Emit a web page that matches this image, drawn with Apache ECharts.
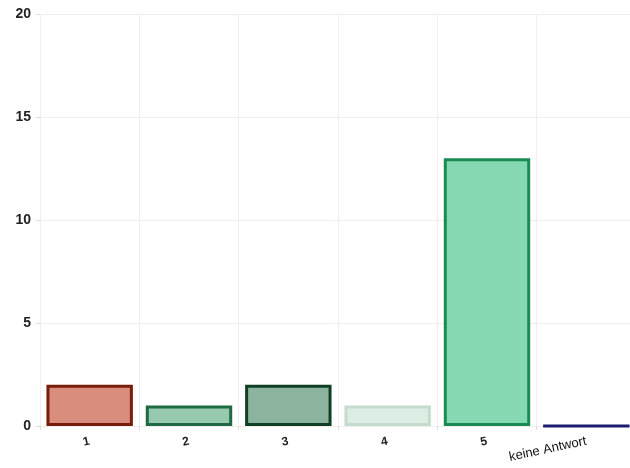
<!DOCTYPE html>
<html>
<head>
<meta charset="utf-8">
<script src="https://cdn.jsdelivr.net/npm/echarts@6/dist/echarts.min.js"></script>
<style>
  html, body { margin: 0; padding: 0; background: #fff; }
  #chart { width: 630px; height: 468px; }
</style>
</head>
<body>
<div id="chart"></div>
<script>
// Antworten je Bewertungsstufe
const categories = ['1', '2', '3', '4', '5', 'keine Antwort'];
const counts = [2, 1, 2, 1, 13, 0];
const fillColors = ['#d98e7d', '#97c9af', '#8cb39d', '#dcede4', '#86d8b2', '#1b1b6e'];
const borderColors = ['#7a1c0c', '#1e6a44', '#0f3f24', '#c3dccd', '#1a8c52', '#1b1b6e'];
const yTicks = [0, 5, 10, 15, 20];

const chart = echarts.init(document.getElementById('chart'));
chart.setOption({
  animation: false,
  grid: { left: 40, top: 14, width: 596, bottom: 42, containLabel: false, outerBoundsMode: 'none' },
  xAxis: {
    type: 'category',
    // the long label sits a little lower than the digits
    data: categories.map((c, i) => i === categories.length - 1
      ? { value: c, textStyle: { padding: [16, 0, 0, 0], fontWeight: 'normal', fontSize: 13, color: '#111' } }
      : c),
    axisLine: { show: false },
    axisTick: { show: true, alignWithLabel: false, length: 4, lineStyle: { color: '#dddddd' } },
    splitLine: { show: true, lineStyle: { color: '#eeeeee', width: 1 } },
    axisLabel: {
      rotate: 12, margin: 15, color: '#222', fontFamily: 'Liberation Sans, Arial, sans-serif',
      fontSize: 12, fontWeight: 'bold', interval: 0
    }
  },
  yAxis: {
    type: 'value',
    min: yTicks[0], max: yTicks[yTicks.length - 1], interval: 5,
    axisLine: { show: false },
    axisTick: { show: true, length: 4, lineStyle: { color: '#dddddd' } },
    splitLine: { show: true, lineStyle: { color: '#eeeeee', width: 1 } },
    axisLabel: {
      margin: 9, color: '#222', fontFamily: 'Liberation Sans, Arial, sans-serif',
      fontSize: 14, fontWeight: 'bold'
    }
  },
  series: [{
    type: 'bar',
    barCategoryGap: '13%',
    data: counts.map((v, i) => ({
      value: v,
      itemStyle: { color: fillColors[i], borderColor: borderColors[i], borderWidth: 3 }
    }))
  }]
});
</script>
</body>
</html>
